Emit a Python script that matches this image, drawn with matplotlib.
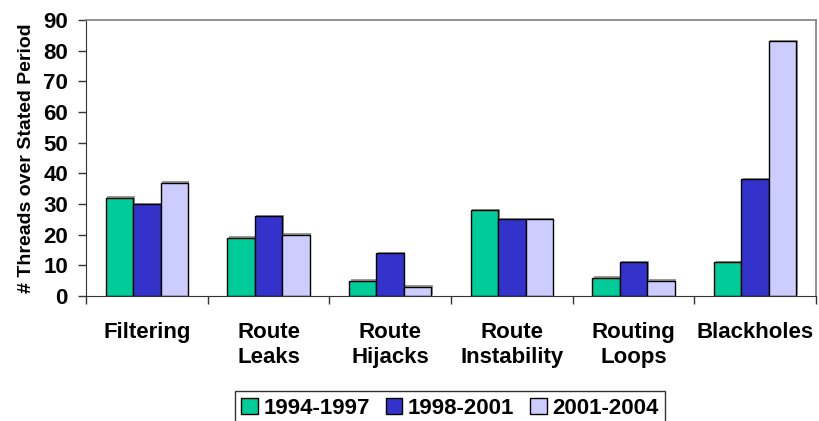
import numpy as np
import matplotlib
matplotlib.use("Agg")
import matplotlib.pyplot as plt
from matplotlib.transforms import ScaledTranslation

plt.rcParams["font.family"] = ["Liberation Sans", "DejaVu Sans"]
plt.rcParams["font.weight"] = "bold"

# data
categories = ["Filtering", "Route\nLeaks", "Route\nHijacks", "Route\nInstability", "Routing\nLoops", "Blackholes"]
periods = ["1994-1997", "1998-2001", "2001-2004"]
s_1994_1997 = [32, 19, 5, 28, 6, 11]
s_1998_2001 = [30, 26, 14, 25, 11, 38]
s_2001_2004 = [37, 20, 3, 25, 5, 83]
colors = ["#00CC99", "#3333CC", "#CCCCFF"]

fig = plt.figure(figsize=(8.2, 4.21), dpi=100)
ax = fig.add_axes([0.1049, 0.2969, 0.8902, 0.6556])

x = np.arange(len(categories))
w = 0.225
series = [s_1994_1997, s_1998_2001, s_2001_2004]
shadow = ax.transData + ScaledTranslation(1.5 / 100, 1.5 / 100, fig.dpi_scale_trans)
for i, (vals, c, lab) in enumerate(zip(series, colors, periods)):
    pos = x + (i - 1) * w
    # soft grey drop shadow like the original
    ax.bar(pos, vals, w, color="#9a9a9a", zorder=1, transform=shadow)
    ax.bar(pos, vals, w, color=c, edgecolor="black", linewidth=1.0, label=lab, zorder=2)

ax.set_xlim(-0.5, len(categories) - 0.5)
ax.set_ylim(0, 90)
ax.set_yticks(range(0, 91, 10))
ax.tick_params(axis="y", direction="out", length=6, width=1, labelsize=16, pad=7, color="#333333")

# tick marks at category boundaries, labels at centers
ax.set_xticks(np.arange(-0.5, len(categories), 1.0))
ax.set_xticklabels([])
ax.set_xticks(x, minor=True)
ax.set_xticklabels(categories, minor=True, fontsize=16, fontweight="bold", linespacing=1.25)
ax.tick_params(axis="x", which="major", direction="out", length=6, width=1, color="#333333")
ax.tick_params(axis="x", which="minor", length=0, pad=19)

for lab in ax.get_yticklabels():
    lab.set_fontweight("bold")

ax.set_ylabel("# Threads over Stated Period", fontsize=14, fontweight="bold", labelpad=6)

for side in ["top", "right"]:
    ax.spines[side].set_color("#808080")
    ax.spines[side].set_linewidth(1.2)
ax.spines["left"].set_color("#333333")
ax.spines["bottom"].set_color("#333333")

handles, labels = ax.get_legend_handles_labels()
leg = fig.legend(handles, labels, loc="upper center", bbox_to_anchor=(450 / 820, 1 - 391 / 421), ncol=3,
                 fontsize=16, frameon=True, fancybox=False, edgecolor="black",
                 handlelength=0.75, handleheight=0.72, handletextpad=0.25,
                 columnspacing=0.7, borderpad=0.3, borderaxespad=0)
leg.get_frame().set_linewidth(1.0)
for t in leg.get_texts():
    t.set_fontweight("bold")

fig.savefig("out.png", dpi=100)
